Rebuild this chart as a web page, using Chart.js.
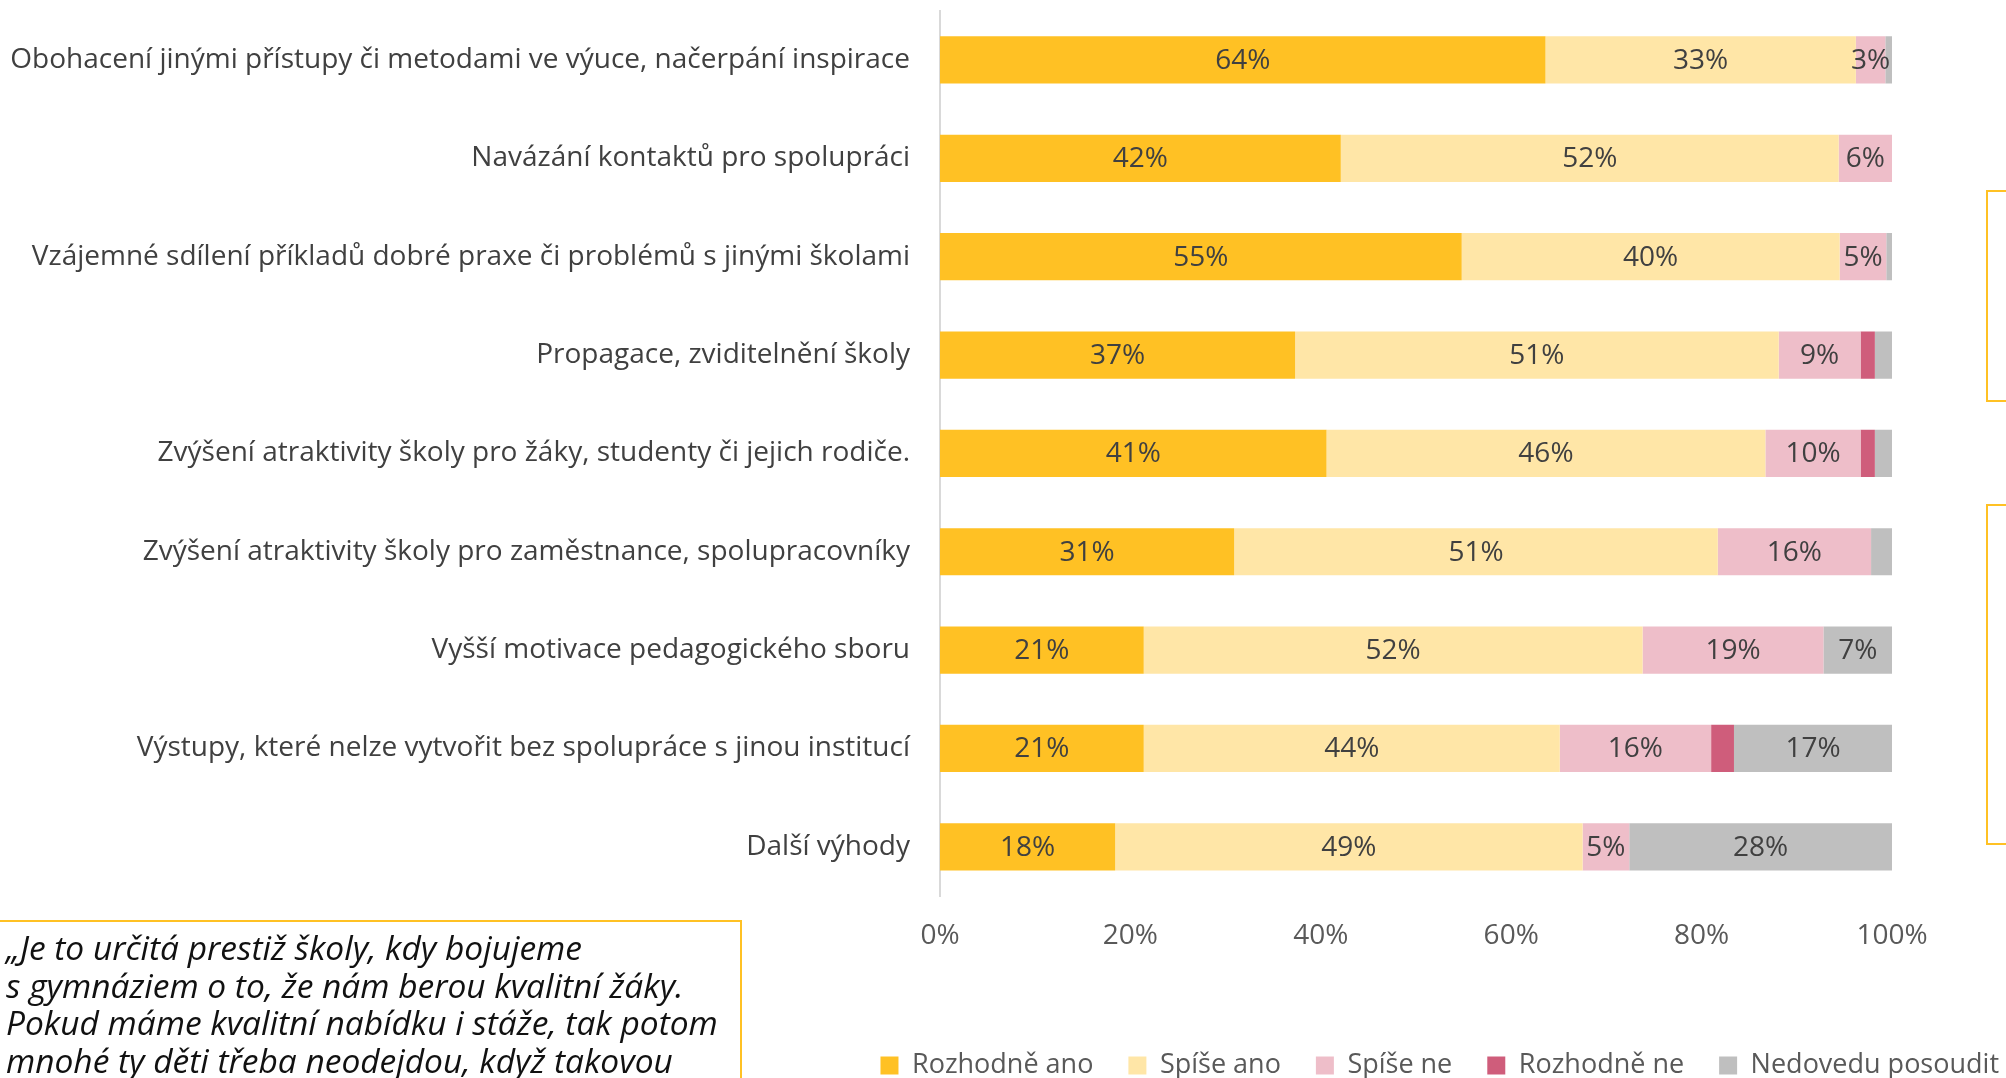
<!DOCTYPE html>
<html lang="cs">
<head>
  <meta charset="UTF-8">
  <title>Přínosy spolupráce</title>
  <script src="https://cdn.jsdelivr.net/npm/chart.js"></script>
  <style>
    html, body {
      margin: 0;
      padding: 0;
      width: 2006px;
      height: 1078px;
      overflow: hidden;
      background: #fff;
      font-family: 'Open Sans', sans-serif;
    }
    #wrap {
      position: absolute;
      left: 0;
      top: -36px;
      width: 2034px;
      height: 1138px;
    }
    .quote-box {
      position: absolute;
      left: -10px;
      top: 920px;
      width: 752px;
      height: 300px;
      border: 2px solid #FFC124;
      box-sizing: border-box;
    }
    .quote {
      position: absolute;
      left: 6px;
      top: 929px;
      margin: 0;
      font-style: italic;
      font-size: 33.5px;
      line-height: 37.5px;
      color: #111;
      white-space: nowrap;
    }
    .side-box {
      position: absolute;
      left: 1986px;
      width: 100px;
      border: 2px solid #FFC124;
      box-sizing: border-box;
    }
  </style>
</head>
<body>
  <div id="wrap"><canvas id="barChart"></canvas></div>

  <div class="side-box" style="top:190px; height:212px;"></div>
  <div class="side-box" style="top:504px; height:341px;"></div>

  <div class="quote-box"></div>
  <p class="quote">„Je to určitá prestiž školy, kdy bojujeme<br>s gymnáziem o to, že nám berou kvalitní žáky.<br>Pokud máme kvalitní nabídku i stáže, tak potom<br>mnohé ty děti třeba neodejdou, když takovou</p>

  <script>
    const categories = [
      'Obohacení jinými přístupy či metodami ve výuce, načerpání inspirace',
      'Navázání kontaktů pro spolupráci',
      'Vzájemné sdílení příkladů dobré praxe či problémů s jinými školami',
      'Propagace, zviditelnění školy',
      'Zvýšení atraktivity školy pro žáky, studenty či jejich rodiče.',
      'Zvýšení atraktivity školy pro zaměstnance, spolupracovníky',
      'Vyšší motivace pedagogického sboru',
      'Výstupy, které nelze vytvořit bez spolupráce s jinou institucí',
      'Další výhody'
    ];
    const seriesNames = ['Rozhodně ano', 'Spíše ano', 'Spíše ne', 'Rozhodně ne', 'Nedovedu posoudit'];
    const rozhodneAno = [63.6, 42.1, 54.8, 37.3, 40.6, 30.9, 21.4, 21.4, 18.4];
    const spiseAno    = [32.6, 52.3, 39.7, 50.8, 46.1, 50.8, 52.4, 43.7, 49.1];
    const spiseNe     = [3.1, 5.6, 4.9, 8.6, 10.0, 16.1, 19.0, 15.9, 4.9];
    const rozhodneNe  = [0, 0, 0, 1.5, 1.5, 0, 0, 2.4, 0];
    const nedovedu    = [0.7, 0, 0.6, 1.8, 1.8, 2.2, 7.2, 16.6, 27.6];
    const xTicks = [0, 20, 40, 60, 80, 100];

    const colors = ['#FFC124', '#FFE6A7', '#EEBEC9', '#CF5D7B', '#BFBFBF'];
    const allSeries = [rozhodneAno, spiseAno, spiseNe, rozhodneNe, nedovedu];

    // popisky hodnot uprostřed segmentů (bez pluginu datalabels)
    const barLabels = {
      id: 'barLabels',
      afterDatasetsDraw(chart) {
        const ctx = chart.ctx;
        ctx.save();
        ctx.font = '28px "Open Sans"';
        ctx.fillStyle = '#404040';
        ctx.textAlign = 'center';
        ctx.textBaseline = 'middle';
        chart.data.datasets.forEach((ds, i) => {
          chart.getDatasetMeta(i).data.forEach((bar, j) => {
            const v = ds.data[j];
            if (v < 2.5) return;
            ctx.fillText(Math.round(v) + '%', (bar.x + bar.base) / 2, bar.y + 1);
          });
        });
        ctx.restore();
      }
    };

    new Chart(document.getElementById('barChart'), {
      type: 'bar',
      data: {
        labels: categories,
        datasets: seriesNames.map((name, i) => ({
          label: name,
          data: allSeries[i],
          backgroundColor: colors[i],
          barPercentage: 0.48,
          categoryPercentage: 1
        }))
      },
      options: {
        indexAxis: 'y',
        responsive: true,
        maintainAspectRatio: false,
        animation: false,
        layout: { padding: { top: 10, right: 0, left: 0, bottom: 13 } },
        scales: {
          x: {
            stacked: true,
            min: 0,
            max: 100,
            afterBuildTicks: s => { s.ticks = xTicks.map(v => ({ value: v })); },
            ticks: { callback: v => v + '%', color: '#595959', font: { family: 'Open Sans', size: 28 }, padding: 23 },
            grid: { display: false, drawTicks: false },
            border: { display: false },
            afterFit: s => { s.height = 121; }
          },
          y: {
            stacked: true,
            ticks: { color: '#404040', font: { family: 'Open Sans', size: 28 }, padding: 30 },
            grid: { display: false, drawTicks: false },
            border: { display: true, color: '#D9D9D9', width: 2 },
            afterFit: s => { s.width = 940; }
          },
          yRight: {
            type: 'category',
            axis: 'y',
            position: 'right',
            ticks: { display: false },
            grid: { display: false, drawTicks: false },
            border: { display: false },
            afterFit: s => { s.width = 142; }
          }
        },
        plugins: {
          legend: {
            position: 'bottom',
            align: 'end',
            labels: {
              boxWidth: 18,
              boxHeight: 18,
              padding: 35,
              color: '#595959',
              font: { family: 'Open Sans', size: 27 }
            }
          },
          tooltip: { enabled: false }
        }
      },
      plugins: [barLabels]
    });
  </script>
</body>
</html>
